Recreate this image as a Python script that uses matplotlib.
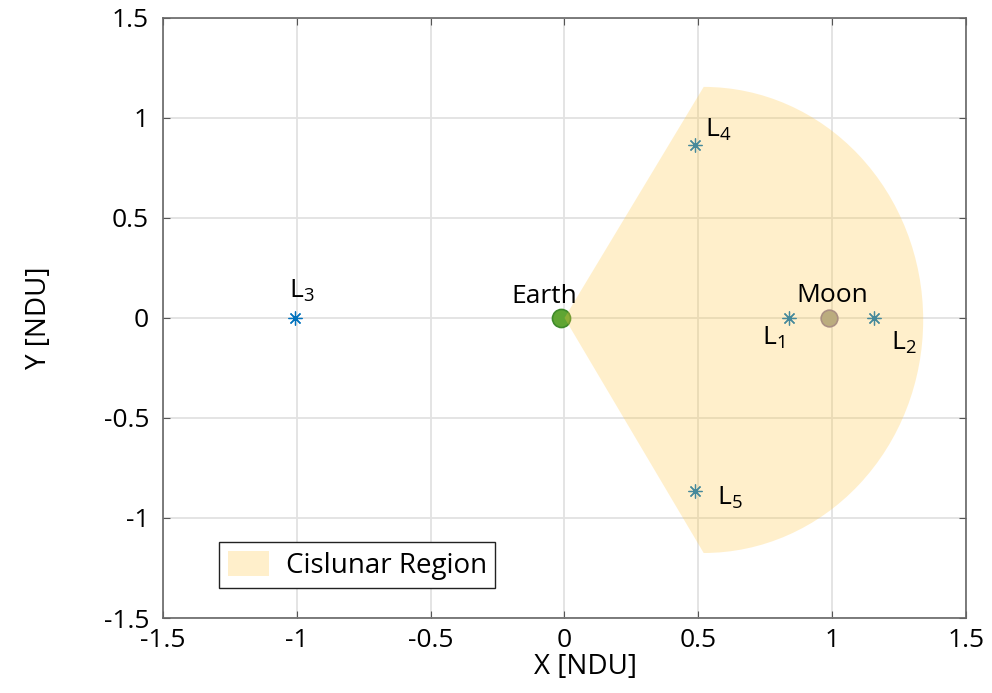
import matplotlib
matplotlib.use("Agg")
import matplotlib.pyplot as plt
from matplotlib.path import Path
from matplotlib.patches import PathPatch, Patch
from matplotlib.transforms import Affine2D

plt.rcParams["font.family"] = ["Open Sans", "DejaVu Sans"]
plt.rcParams["mathtext.fontset"] = "custom"
plt.rcParams["mathtext.rm"] = "Open Sans"
plt.rcParams["mathtext.default"] = "regular"

# CR3BP Earth-Moon, normalized units
mu = 0.01215
earth_xy = [-mu, 0.0]
moon_xy = [1 - mu, 0.0]

lpoint_names = ["L$_1$", "L$_2$", "L$_3$", "L$_4$", "L$_5$"]
lpoint_x = [0.8369, 1.1557, -1.0051, 0.4879, 0.4879]
lpoint_y = [0.0, 0.0, 0.0, 0.866, -0.866]

# cislunar region: wedge from Earth closed by an elliptic arc
region_center = [0.52, -0.01]
region_semi_axes = [0.82, 1.165]
region_color = "#FFC845"
region_alpha = 0.28

fig = plt.figure(figsize=(9.92, 6.93), dpi=100)
ax = fig.add_axes([0.1643, 0.1082, 0.8095, 0.866])

ax.plot(*earth_xy, "o", ms=13, mfc="#5FA533", mec="#3E8A2A", mew=1.2, zorder=2)
ax.plot(*moon_xy, "o", ms=12, mfc="#A1A294", mec="#8A7A9A", mew=1.2, zorder=2)
ax.plot(lpoint_x, lpoint_y, ls="none", marker=(8, 2, 0), ms=10, mew=0.9,
        color="#0072BD", zorder=2)

arc = Path.arc(-90, 90)
tr = Affine2D().scale(*region_semi_axes).translate(*region_center)
arc_verts = tr.transform(arc.vertices)
verts = [(0, 0)] + list(map(tuple, arc_verts)) + [(0, 0)]
codes = [Path.MOVETO, Path.LINETO] + list(arc.codes[1:]) + [Path.CLOSEPOLY]
region = PathPatch(Path(verts, codes), facecolor=region_color, edgecolor="none",
                   alpha=region_alpha, zorder=3)
ax.add_patch(region)

fs = 19
ax.text(-0.075, 0.075, "Earth", ha="center", va="baseline", fontsize=fs, zorder=4)
ax.text(1.0, 0.08, "Moon", ha="center", va="baseline", fontsize=fs, zorder=4)
label_pos = [(0.736, -0.135), (1.218, -0.16), (-1.03, 0.1), (0.525, 0.905), (0.57, -0.935)]
for name, (tx, ty) in zip(lpoint_names, label_pos):
    ax.text(tx, ty, name, ha="left", va="baseline", fontsize=fs, zorder=4)

ax.set_xlim(-1.5, 1.5)
ax.set_ylim(-1.5, 1.5)
ticks = [-1.5, -1, -0.5, 0, 0.5, 1, 1.5]
tick_labels = ["-1.5", "-1", "-0.5", "0", "0.5", "1", "1.5"]
ax.set_xticks(ticks, tick_labels)
ax.set_yticks(ticks, tick_labels)
ax.tick_params(direction="in", length=5, width=0.8, color="#555555",
               labelsize=19, top=True, right=True)
ax.tick_params(axis="x", pad=7)
ax.tick_params(axis="y", pad=10)
ax.grid(True, color="#e2e2e2", linewidth=1.3)
ax.set_axisbelow(True)
for s in ax.spines.values():
    s.set_color("#666666")
    s.set_linewidth(1.2)

ax.set_xlabel("X [NDU]", fontsize=20)
ax.set_ylabel("Y [NDU]", fontsize=20)
ax.xaxis.set_label_coords(0.526, -0.058)
ax.yaxis.set_label_coords(-0.137, 0.5)

handle = Patch(facecolor=region_color, alpha=region_alpha, edgecolor="none")
leg = ax.legend([handle], ["Cislunar Region"], loc="lower left",
                bbox_to_anchor=(0.07, 0.05), borderaxespad=0, fontsize=20,
                fancybox=False, framealpha=1, edgecolor="#222222",
                handlelength=1.5, handleheight=1.0, borderpad=0.3,
                handletextpad=0.6)
leg.get_frame().set_linewidth(1.0)

fig.savefig("out.png", dpi=100)
